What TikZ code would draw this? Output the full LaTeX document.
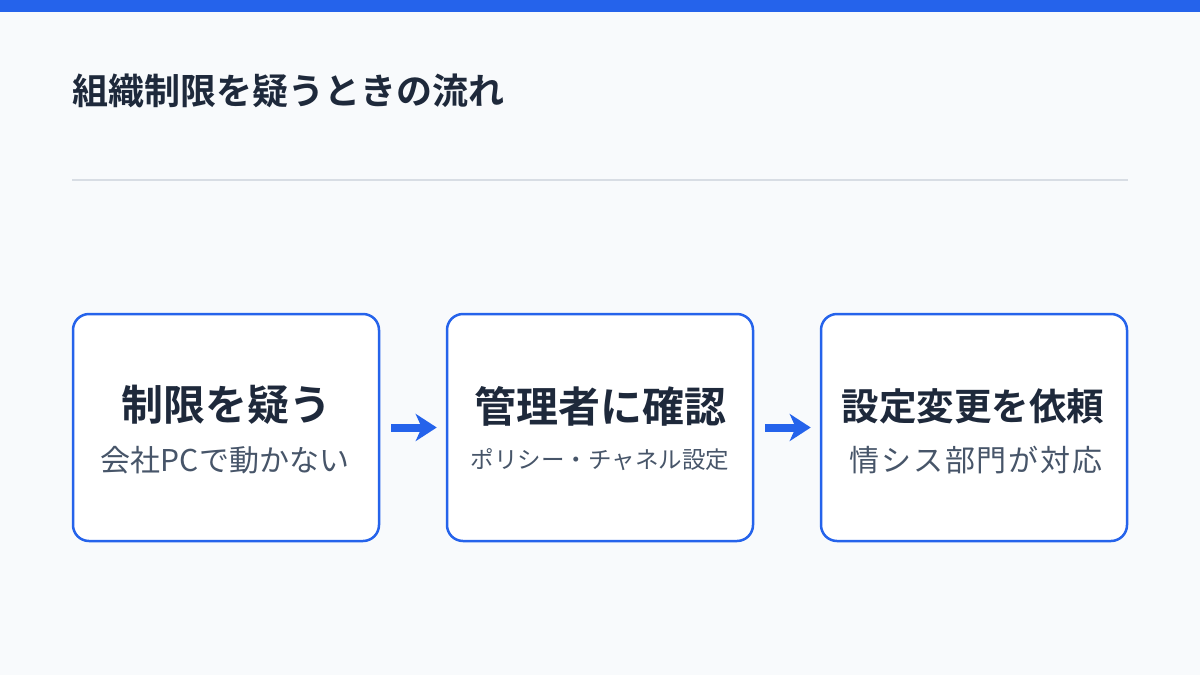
\documentclass[tikz,border=0pt]{standalone}
\usepackage{fontspec}
\setmainfont{Noto Sans CJK JP}[BoldFont={Noto Sans CJK JP Bold}]
\usetikzlibrary{arrows.meta}
\definecolor{bg}{HTML}{F8FAFC}
\definecolor{accent}{HTML}{2563EB}
\definecolor{ink}{HTML}{1E293B}
\definecolor{subink}{HTML}{475569}
\definecolor{rulecol}{HTML}{D8DDE4}
\begin{document}
\begin{tikzpicture}[x=1pt,y=-1pt,
  stepbox/.style={draw=accent, line width=2.5pt, fill=white, rounded corners=16pt, minimum width=306pt, minimum height=227pt, inner sep=0pt},
  maintext/.style={text=ink, inner sep=0pt, font=\bfseries\fontsize{42}{50}\selectfont},
  subtext/.style={text=subink, inner sep=0pt, font=\fontsize{30}{36}\selectfont},
  flow/.style={draw=accent, line width=8pt, -{Stealth[length=21pt,width=27pt,inset=6pt]}}
]
\useasboundingbox (0,0) rectangle (1200,675);
\fill[bg] (0,0) rectangle (1200,675);
\fill[accent] (0,0) rectangle (1200,12);
\node[anchor=west, text=ink, inner sep=0pt, font=\bfseries\fontsize{36}{44}\selectfont] (title) at (72,91) {組織制限を疑うときの流れ};
\coordinate (ruleL) at (72,180);
\coordinate (ruleR) at (1128,180);
\draw[rulecol, line width=1.5pt] (ruleL) -- (ruleR);

\node[stepbox] (b1) at (226,427.5) {};
\node[stepbox] (b2) at (600,427.5) {};
\node[stepbox] (b3) at (974,427.5) {};

\node[maintext] (t1) at (226,405) {制限を疑う};
\node[subtext] (s1) at (225,460) {会社PCで動かない};
\node[maintext] (t2) at (600,406) {管理者に確認};
\node[subtext, font=\fontsize{23.5}{28}\selectfont] (s2) at (600,460) {ポリシー・チャネル設定};
\node[maintext, font=\bfseries\fontsize{37.5}{45}\selectfont] (t3) at (973,406) {設定変更を依頼};
\node[subtext, font=\fontsize{30}{36}\selectfont\addfontfeatures{LetterSpace=6}] (s3) at (976,460) {情シス部門が対応};

\draw[flow] ([xshift=11pt]b1.east) -- ([xshift=-9pt]b2.west);
\draw[flow] ([xshift=11pt]b2.east) -- ([xshift=-9pt]b3.west);
\end{tikzpicture}
\end{document}
